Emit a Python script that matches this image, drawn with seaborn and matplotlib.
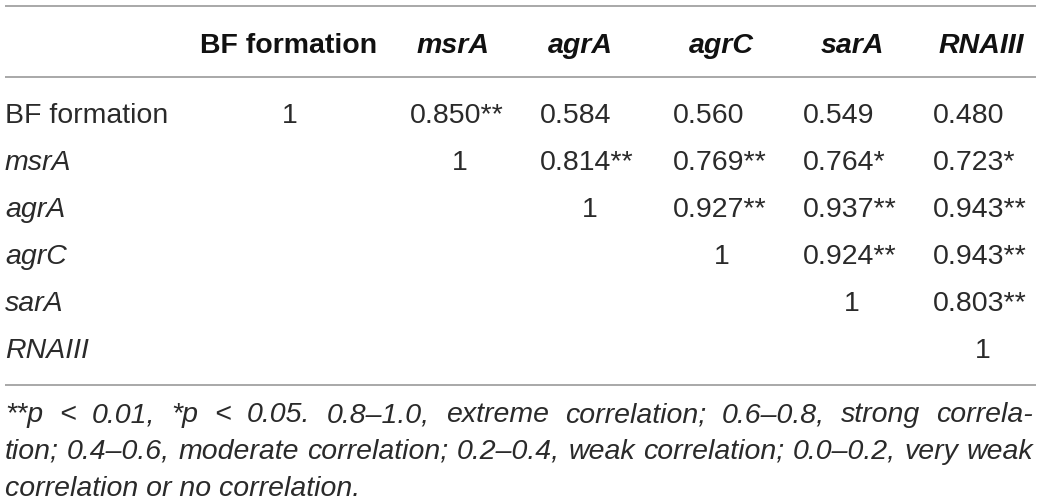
import matplotlib
matplotlib.use("Agg")
import matplotlib.pyplot as plt
import seaborn as sns

# ---------------- data ----------------
row_labels = ["BF formation", "msrA", "agrA", "agrC", "sarA", "RNAIII"]
col_labels = ["BF formation", "msrA", "agrA", "agrC", "sarA", "RNAIII"]
label_italic = [False, True, True, True, True, True]

row_bf    = [1, 0.850, 0.584, 0.560, 0.549, 0.480]
row_msrA  = [None, 1, 0.814, 0.769, 0.764, 0.723]
row_agrA  = [None, None, 1, 0.927, 0.937, 0.943]
row_agrC  = [None, None, None, 1, 0.924, 0.943]
row_sarA  = [None, None, None, None, 1, 0.803]
row_RNA   = [None, None, None, None, None, 1]
values = [row_bf, row_msrA, row_agrA, row_agrC, row_sarA, row_RNA]

sig_bf    = ["", "**", "", "", "", ""]
sig_msrA  = ["", "", "**", "**", "*", "*"]
sig_agrA  = ["", "", "", "**", "**", "**"]
sig_agrC  = ["", "", "", "", "**", "**"]
sig_sarA  = ["", "", "", "", "", "**"]
sig_RNA   = ["", "", "", "", "", ""]
stars = [sig_bf, sig_msrA, sig_agrA, sig_agrC, sig_sarA, sig_RNA]

footnote_lines = [
    "**p < 0.01, *p < 0.05. 0.8\u20131.0, extreme correlation; 0.6\u20130.8, strong correla-",
    "tion; 0.4\u20130.6, moderate correlation; 0.2\u20130.4, weak correlation; 0.0\u20130.2, very weak",
    "correlation or no correlation.",
]

# ---------------- layout ----------------
W, H = 1041, 503
sns.set_theme(style="white")
plt.rcParams["font.family"] = ["Liberation Sans", "DejaVu Sans"]

fig = plt.figure(figsize=(W / 100, H / 100), dpi=100)
ax = fig.add_axes([0, 0, 1, 1])
ax.set_xlim(0, W)
ax.set_ylim(H, 0)
ax.axis("off")

FS = 20.5
data_color = "#2a2a2a"
head_color = "#111111"
rule_color = "#9a9a9a"

head_x = [289, 453, 580, 721, 852, 981]
val_left = [None, 410, 540, 673, 803, 933]
one_x = [290, 460, 590, 722, 852, 983]
head_base = 53
row_base0, row_step = 123, 47
label_x = 5

# rules
ax.hlines([5.5, 77, 385], 5, 1036, colors=rule_color, linewidth=1.2)

# header
for j, lab in enumerate(col_labels):
    ax.text(head_x[j], head_base, lab, ha="center", va="baseline", fontsize=FS,
            fontweight="bold", fontstyle="italic" if label_italic[j] else "normal",
            color=head_color)

# body
for i, lab in enumerate(row_labels):
    yb = row_base0 + row_step * i
    ax.text(label_x, yb, lab, ha="left", va="baseline", fontsize=FS,
            fontstyle="italic" if label_italic[i] else "normal", color=data_color)
    for j, v in enumerate(values[i]):
        if v is None:
            continue
        if v == 1:
            ax.text(one_x[j], yb, "1", ha="center", va="baseline", fontsize=FS,
                    color=data_color)
        else:
            ax.text(val_left[j], yb, f"{v:.3f}{stars[i][j]}", ha="left",
                    va="baseline", fontsize=FS, color=data_color)

# footnote (justified lines)
fig.canvas.draw()
renderer = fig.canvas.get_renderer()
foot_base = [422, 459, 496]
x0, x1 = 5, 1033
for k, line in enumerate(footnote_lines):
    words = line.split(" ")
    if k < len(footnote_lines) - 1:
        txts = [ax.text(0, foot_base[k], w, ha="left", va="baseline", fontsize=FS,
                        fontstyle="italic", color=data_color) for w in words]
        widths = [t.get_window_extent(renderer).width for t in txts]
        gap = (x1 - x0 - sum(widths)) / (len(words) - 1)
        x = x0
        for t, w in zip(txts, widths):
            t.set_x(x)
            x += w + gap
    else:
        ax.text(x0, foot_base[k], line, ha="left", va="baseline", fontsize=FS,
                fontstyle="italic", color=data_color)

fig.savefig("out.png", dpi=100, facecolor="white")
